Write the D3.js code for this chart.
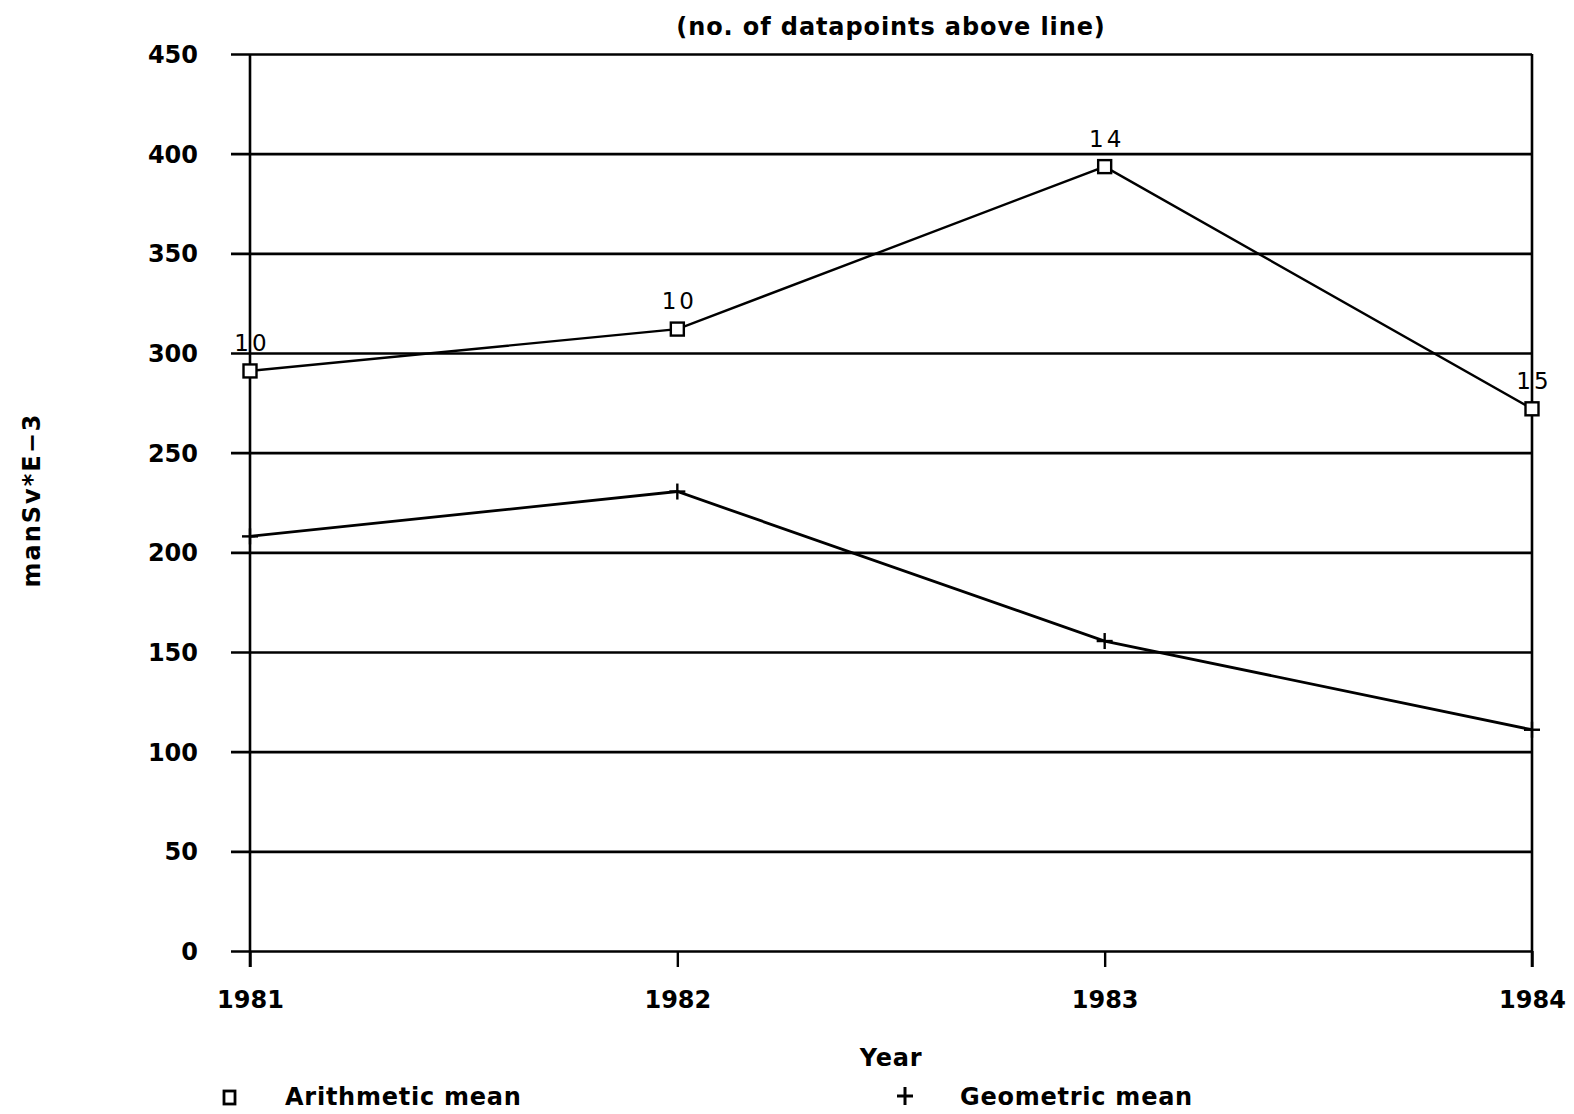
<!DOCTYPE html>
<html>
<head>
<meta charset="utf-8">
<script src="https://cdn.jsdelivr.net/npm/d3@7"></script>
<style>
  html, body { margin: 0; padding: 0; background: #fff; }
  svg { display: block; }
  text { font-family: "DejaVu Sans", "Liberation Sans", sans-serif; fill: #000; }
</style>
</head>
<body>
<script>
// Yearly means of collective dose (manSv*E-3)
const years = [1981, 1982, 1983, 1984];
const arithmeticMean = [291, 312, 393.5, 272];
const geometricMean = [208, 230.5, 155.5, 111];
// number of datapoints above the arithmetic-mean line
const countsAbove = [10, 10, 14, 15];
const yTicks = [0, 50, 100, 150, 200, 250, 300, 350, 400, 450];

const W = 1574, H = 1114;
const margin = { left: 250, right: 42, top: 54, bottom: 163 };
const plotW = W - margin.right - margin.left;

const svg = d3.select("body").append("svg")
  .attr("width", W).attr("height", H);

const x = d3.scalePoint().domain(years).range([margin.left, W - margin.right]);
const y = d3.scaleLinear().domain([0, 450]).range([H - margin.bottom, margin.top]);

const ink = "#000";
const bold = s => s.style("font-weight", "bold");

// horizontal grid, with short ticks poking left of the axis
const overhang = 19;
const yAxis = d3.axisLeft(y).tickValues(yTicks)
  .tickSize(0)
  .tickFormat(d3.format("d"));
const gy = svg.append("g")
  .attr("transform", `translate(${W - margin.right},0)`)
  .call(yAxis);
gy.select(".domain").remove();
gy.selectAll(".tick line")
  .attr("x1", 0)
  .attr("x2", -plotW - overhang)
  .attr("stroke", ink).attr("stroke-width", 2.6);
gy.selectAll(".tick text")
  .attr("x", -plotW - 52)
  .attr("dy", "0.36em")
  .style("font-size", "24px").call(bold)
  .attr("text-anchor", "end");

// x ticks below the zero line
const xAxis = d3.axisBottom(x).tickValues(years).tickSize(16).tickPadding(24).tickFormat(d3.format("d"));
const gx = svg.append("g")
  .attr("transform", `translate(0,${y(0)})`)
  .call(xAxis);
gx.select(".domain").remove();
gx.selectAll(".tick line").attr("stroke", ink).attr("stroke-width", 2.4);
gx.selectAll(".tick text")
  .style("font-size", "24px").call(bold);

// vertical frame lines at the first and last year
[years[0], years[years.length - 1]].forEach(yr => {
  svg.append("line")
    .attr("x1", x(yr)).attr("x2", x(yr))
    .attr("y1", y(450)).attr("y2", y(0) + 16)
    .attr("stroke", ink).attr("stroke-width", 2.6);
});

// series lines
const line = d3.line().x((d, i) => x(years[i])).y(d => y(d));
svg.append("path").datum(arithmeticMean)
  .attr("d", line).attr("fill", "none").attr("stroke", ink).attr("stroke-width", 2.4);
svg.append("path").datum(geometricMean)
  .attr("d", line).attr("fill", "none").attr("stroke", ink).attr("stroke-width", 2.8);

// square markers
const sq = 13;
svg.selectAll("rect.am").data(arithmeticMean).enter().append("rect")
  .attr("class", "am")
  .attr("x", (d, i) => x(years[i]) - sq / 2)
  .attr("y", d => y(d) - sq / 2)
  .attr("width", sq).attr("height", sq)
  .attr("fill", "#fff").attr("stroke", ink).attr("stroke-width", 2.4);

// plus markers
const ps = 8;
const plus = svg.selectAll("g.gm").data(geometricMean).enter().append("g")
  .attr("class", "gm")
  .attr("transform", (d, i) => `translate(${x(years[i])},${y(d)})`);
plus.append("line").attr("x1", -ps).attr("x2", ps).attr("stroke", ink).attr("stroke-width", 2.4);
plus.append("line").attr("y1", -ps).attr("y2", ps).attr("stroke", ink).attr("stroke-width", 2.4);

// count labels above the arithmetic mean markers
svg.selectAll("text.cnt").data(countsAbove).enter().append("text")
  .attr("class", "cnt")
  .attr("x", (d, i) => x(years[i]) + 2)
  .attr("y", (d, i) => y(arithmeticMean[i]) - 20)
  .attr("text-anchor", "middle")
  .style("font-size", "23px")
  .style("letter-spacing", "3px")
  .text(d => d);

// titles
svg.append("text")
  .attr("x", 891).attr("y", 35)
  .attr("text-anchor", "middle")
  .style("font-size", "24px").call(bold)
  .style("letter-spacing", "0.9px")
  .text("(no. of datapoints above line)");

svg.append("text")
  .attr("transform", `translate(40,500) rotate(-90)`)
  .attr("text-anchor", "middle")
  .style("font-size", "24px").call(bold)
  .style("letter-spacing", "2px")
  .text("manSv*E\u22123");

svg.append("text")
  .attr("x", 891).attr("y", 1066)
  .attr("text-anchor", "middle")
  .style("font-size", "24px").call(bold)
  .style("letter-spacing", "0.8px")
  .text("Year");

// legend
const legBase = 1105;
svg.append("rect")
  .attr("x", 224).attr("y", legBase - 14).attr("width", 11).attr("height", 13)
  .attr("fill", "#fff").attr("stroke", ink).attr("stroke-width", 2.8);
svg.append("text")
  .attr("x", 285).attr("y", legBase)
  .style("font-size", "24px").call(bold)
  .style("letter-spacing", "0.75px")
  .text("Arithmetic mean");
const lp = svg.append("g").attr("transform", `translate(905,${legBase - 9})`);
lp.append("line").attr("x1", -8).attr("x2", 8).attr("stroke", ink).attr("stroke-width", 3);
lp.append("line").attr("y1", -9).attr("y2", 9).attr("stroke", ink).attr("stroke-width", 3);
svg.append("text")
  .attr("x", 960).attr("y", legBase)
  .style("font-size", "24px").call(bold)
  .style("letter-spacing", "0.75px")
  .text("Geometric mean");
</script>
</body>
</html>
